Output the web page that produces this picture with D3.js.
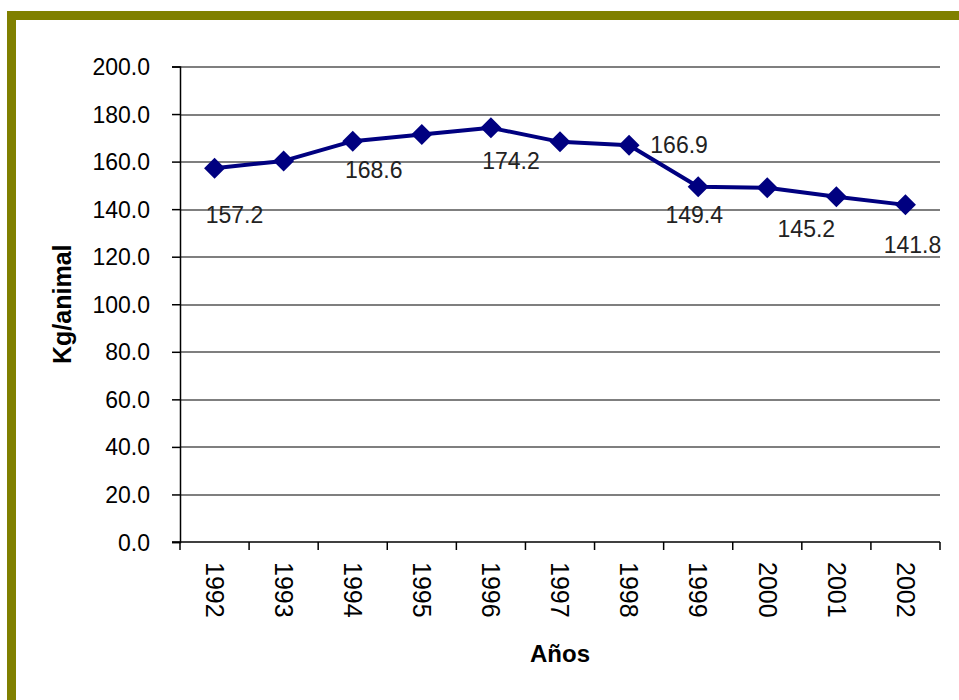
<!DOCTYPE html>
<html>
<head>
<meta charset="utf-8">
<script src="https://cdn.jsdelivr.net/npm/d3@7"></script>
<style>
  body { margin: 0; background: #fff; }
  text { font-family: "Liberation Sans", Arial, sans-serif; fill: #000; }
</style>
</head>
<body>
<div id="chart"></div>
<script>
// data
const years = ['1992', '1993', '1994', '1995', '1996', '1997', '1998', '1999', '2000', '2001', '2002'];
const kgPerAnimal = [157.2, 160.3, 168.6, 171.4, 174.2, 168.3, 166.9, 149.4, 149.0, 145.2, 141.8];
const yTicks = [0, 20, 40, 60, 80, 100, 120, 140, 160, 180, 200];
// which points carry a value label
const labelled = ['1992', '1994', '1996', '1998', '1999', '2001', '2002'];

// label offsets from the point (excel placed them a bit oddly)
const labelOffset = {
    '1992': [20, 55],
    '1994': [21, 37],
    '1996': [20, 41],
    '1998': [50, 8],
    '1999': [-4, 36],
    '2001': [-30, 40],
    '2002': [7, 48]
};

const W = 959, H = 700;
const margin = { top: 66.5, right: 19, bottom: 158, left: 180 };
const width = W - margin.left - margin.right,
    height = H - margin.top - margin.bottom;

const svg = d3.select('#chart').append('svg')
    .attr('width', W)
    .attr('height', H);

// olive frame, only top and left edges show
svg.append('rect')
    .attr('x', 11.5)
    .attr('y', 15.5)
    .attr('width', W + 40)
    .attr('height', H + 40)
    .attr('fill', 'none')
    .attr('stroke', '#808000')
    .attr('stroke-width', 9);

const g = svg.append('g')
    .attr('transform', 'translate(' + margin.left + ',' + margin.top + ')');

const x = d3.scaleBand().domain(years).range([0, width]);
const y = d3.scaleLinear().domain([0, 200]).range([height, 0]);

// gridlines
g.selectAll('.grid')
    .data(yTicks.filter(d => d > 0))
    .enter().append('line')
    .attr('x1', 0)
    .attr('x2', width)
    .attr('y1', d => Math.round(y(d)) + 0.5)
    .attr('y2', d => Math.round(y(d)) + 0.5)
    .attr('stroke', '#000')
    .attr('stroke-width', 1.2);

// y axis
const yAxis = g.append('g')
    .call(d3.axisLeft(y).tickValues(yTicks).tickSize(8).tickPadding(22)
        .tickFormat(d3.format('.1f')));
yAxis.select('.domain').attr('stroke', '#000').attr('stroke-width', 1.5);
yAxis.selectAll('line').attr('stroke', '#000').attr('stroke-width', 1.5);
yAxis.selectAll('text')
    .style('font-size', '23px')
    .attr('dy', '0.35em');

// x axis, ticks between categories
const xAxis = g.append('g')
    .attr('transform', 'translate(0,' + height + ')');
xAxis.append('line')
    .attr('x1', -8)
    .attr('x2', width)
    .attr('stroke', '#000')
    .attr('stroke-width', 1.5);
xAxis.selectAll('.tick')
    .data(d3.range(years.length + 1))
    .enter().append('line')
    .attr('x1', i => i * x.step())
    .attr('x2', i => i * x.step())
    .attr('y1', 0)
    .attr('y2', 8)
    .attr('stroke', '#000')
    .attr('stroke-width', 1.5);
xAxis.selectAll('.yearLabel')
    .data(years)
    .enter().append('text')
    .attr('transform', d => 'translate(' + (x(d) + x.bandwidth() / 2) + ',20) rotate(90)')
    .attr('dy', '0.35em')
    .style('font-size', '25px')
    .style('text-anchor', 'start')
    .text(d => d);

// axis titles
svg.append('text')
    .attr('transform', 'translate(71,' + (margin.top + height / 2) + ') rotate(-90)')
    .style('text-anchor', 'middle')
    .style('font-size', '25px')
    .style('font-weight', 'bold')
    .text('Kg/animal');

svg.append('text')
    .attr('x', 560)
    .attr('y', 662)
    .style('text-anchor', 'middle')
    .style('font-size', '24px')
    .style('font-weight', 'bold')
    .text('Años');

// the series
const points = years.map((d, i) => ({ year: d, value: kgPerAnimal[i] }));

const line = d3.line()
    .x(d => x(d.year) + x.bandwidth() / 2)
    .y(d => y(d.value));

g.append('path')
    .datum(points)
    .attr('d', line)
    .attr('fill', 'none')
    .attr('stroke', '#000080')
    .attr('stroke-width', 4)
    .attr('stroke-linejoin', 'round');

g.selectAll('.marker')
    .data(points)
    .enter().append('path')
    .attr('transform', d => 'translate(' + (x(d.year) + x.bandwidth() / 2) + ',' + y(d.value) + ')')
    .attr('d', 'M0,-10.5L10.5,0L0,10.5L-10.5,0Z')
    .attr('fill', '#000080');

g.selectAll('.valueLabel')
    .data(points.filter(d => labelled.includes(d.year)))
    .enter().append('text')
    .attr('x', d => x(d.year) + x.bandwidth() / 2 + labelOffset[d.year][0])
    .attr('y', d => y(d.value) + labelOffset[d.year][1])
    .style('text-anchor', 'middle')
    .style('font-size', '23px')
    .style('fill', '#222')
    .text(d => d3.format('.1f')(d.value));
</script>
</body>
</html>
